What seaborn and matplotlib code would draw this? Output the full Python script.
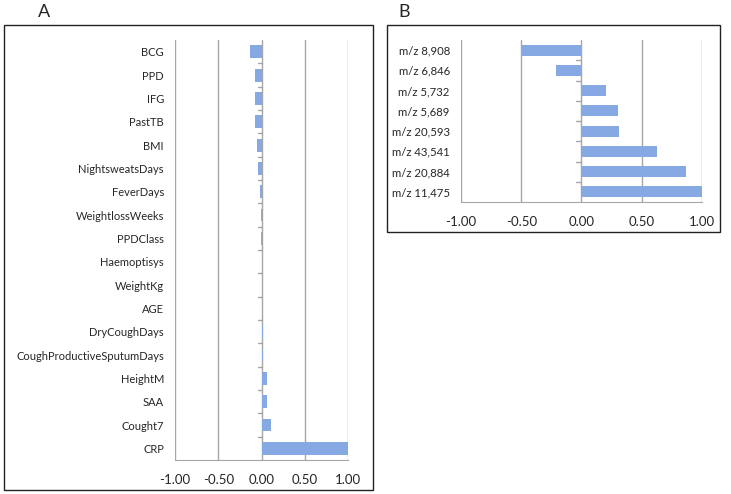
import pandas as pd
import matplotlib.pyplot as plt
import seaborn as sns
from matplotlib.patches import Rectangle
import matplotlib.transforms as mtransforms

# Panel A - clinical variables
a_labels = ["BCG", "PPD", "IFG", "PastTB", "BMI", "NightsweatsDays", "FeverDays",
            "WeightlossWeeks", "PPDClass", "Haemoptisys", "WeightKg", "AGE",
            "DryCoughDays", "CoughProductiveSputumDays", "HeightM", "SAA", "Cought7", "CRP"]
a_values = [-0.13, -0.08, -0.07, -0.07, -0.05, -0.035, -0.012, -0.006, -0.003,
            0.0, 0.003, 0.006, 0.012, 0.016, 0.06, 0.065, 0.11, 1.0]

# Panel B - m/z peaks
b_labels = ["m/z 8,908", "m/z 6,846", "m/z 5,732", "m/z 5,689", "m/z 20,593",
            "m/z 43,541", "m/z 20,884", "m/z 11,475"]
b_values = [-0.49, -0.21, 0.20, 0.30, 0.31, 0.63, 0.87, 1.0]

xticks = [-1.0, -0.5, 0.0, 0.5, 1.0]

sns.set_style("white")
plt.rcParams["font.family"] = ["Lato", "DejaVu Sans"]

fig = plt.figure(figsize=(7.31, 4.94), dpi=100)

bar_color = "#86a9e3"
grid_color = "#a6a6a6"


def draw_panel(ax, labels, values, label_size):
    df = pd.DataFrame({"label": labels, "value": values})
    sns.barplot(data=df, x="value", y="label", orient="h", color=bar_color,
                width=0.55, saturation=1, ax=ax, edgecolor="none")
    ax.set_xlim(-1, 1)
    ax.set_xticks(xticks)
    ax.set_xticklabels([f"{t:.2f}" for t in xticks], fontsize=9.5)
    ax.tick_params(axis="y", labelsize=label_size, length=0, pad=8)
    ax.tick_params(axis="x", length=4, direction="out", color=grid_color, pad=6)
    ax.set_xlabel("")
    ax.set_ylabel("")
    for s in ["top", "right", "left"]:
        ax.spines[s].set_visible(False)
    ax.spines["bottom"].set_color(grid_color)
    ax.grid(False)
    for t in xticks:
        ax.axvline(t, color=grid_color, lw=1, zorder=0)
    # category boundary ticks on the zero axis
    n = len(labels)
    trans = mtransforms.blended_transform_factory(ax.transAxes, ax.transData)
    zero_ax = 0.5
    for i in range(n - 1):
        ax.plot([zero_ax - 0.022, zero_ax], [i + 0.5, i + 0.5], color=grid_color,
                lw=1, transform=trans, zorder=0, clip_on=False)
    ax.set_ylim(n - 0.5, -0.5)


ax_a = fig.add_axes([0.2394, 0.0688, 0.2367, 0.850])
draw_panel(ax_a, a_labels, a_values, 8)

ax_b = fig.add_axes([0.6306, 0.591, 0.3297, 0.328])
draw_panel(ax_b, b_labels, b_values, 8.2)

# Panel frames
fig.patches.append(Rectangle((4 / 731, 1 - 490 / 494), 369 / 731, 465 / 494,
                             transform=fig.transFigure, fill=False,
                             edgecolor="#222222", lw=1))
fig.patches.append(Rectangle((387 / 731, 1 - 232 / 494), 333 / 731, 207 / 494,
                             transform=fig.transFigure, fill=False,
                             edgecolor="#222222", lw=1))

fig.text(38 / 731, 1 - 12 / 494, "A", fontsize=13, va="center", ha="left")
fig.text(398 / 731, 1 - 12 / 494, "B", fontsize=13, va="center", ha="left")

fig.savefig("out.png", dpi=100)
